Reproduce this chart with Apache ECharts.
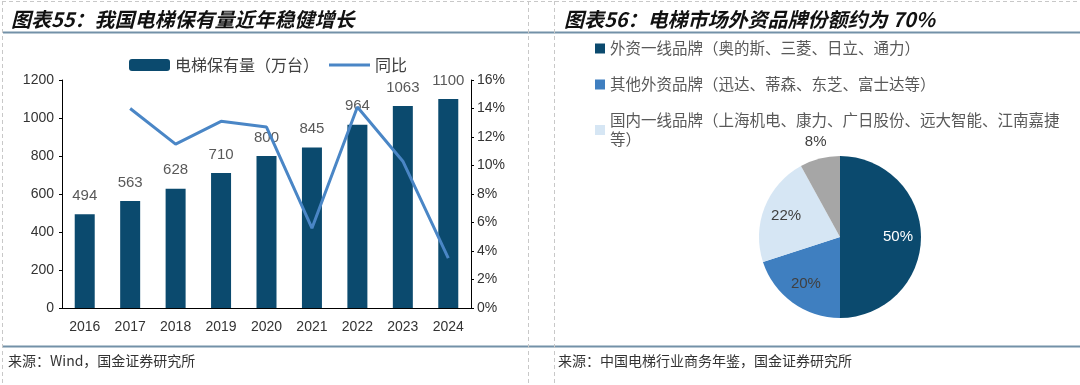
<!DOCTYPE html>
<html>
<head>
<meta charset="utf-8">
<script src="https://cdn.jsdelivr.net/npm/echarts@6/dist/echarts.min.js"></script>
<style>
html,body{margin:0;padding:0;background:#fff;}
#c{width:1080px;height:385px;}
</style>
</head>
<body>
<div id="c"></div>
<script>
// ---- data ----
var years = ['2016','2017','2018','2019','2020','2021','2022','2023','2024'];
var stock = [494, 563, 628, 710, 800, 845, 964, 1063, 1100];       // 万台
var yoy = [null, 14.0, 11.5, 13.1, 12.7, 5.6, 14.1, 10.3, 3.5];      // %
var leftTicksMax = 1200, leftTicksStep = 200;
var rightTicksMax = 16, rightTicksStep = 2;

var shareNames = ['外资一线品牌（奥的斯、三菱、日立、通力）', '其他外资品牌（迅达、蒂森、东芝、富士达等）', '国内一线品牌（上海机电、康力、广日股份、远大智能、江南嘉捷等）', '其他'];
var shareValues = [50, 20, 22, 8];
var shareColors = ['#0b4a6e', '#3f7fc0', '#d6e6f4', '#a6a6a6'];

var title1 = '图表55：我国电梯保有量近年稳健增长';
var title2 = '图表56：电梯市场外资品牌份额约为 70%';
var source1 = '来源：Wind，国金证券研究所';
var source2 = '来源：中国电梯行业商务年鉴，国金证券研究所';

var numFont = "'Liberation Sans', Arial, 'Noto Sans CJK SC', sans-serif";
var cjkFont = "'Noto Sans CJK SC', sans-serif";

var chart = echarts.init(document.getElementById('c'), null, {renderer: 'canvas'});

var pieData = shareNames.map(function (n, i) {
  return {name: n, value: shareValues[i], itemStyle: {color: shareColors[i]}};
});
// labels inside the pie (first three slices)
var pieLabelData = shareNames.map(function (n, i) {
  return {name: n, value: shareValues[i], label: {show: i !== 3, color: i === 0 ? '#ffffff' : '#404040'}};
});
// label just outside the pie (last slice)
var pieOuterLabelData = shareNames.map(function (n, i) {
  return {name: n, value: shareValues[i], label: {show: i === 3, color: '#404040'}};
});

var option = {
  animation: false,
  backgroundColor: '#ffffff',
  textStyle: {fontFamily: numFont},
  title: [
    {text: title1, left: 6, top: 4, textStyle: {fontFamily: cjkFont, fontSize: 20, fontWeight: 'bold', fontStyle: 'italic', color: '#111'}},
    {text: title2, left: 559, top: 4, textStyle: {fontFamily: cjkFont, fontSize: 20, fontWeight: 'bold', fontStyle: 'italic', color: '#111'}}
  ],
  graphic: [
    {type: 'line', shape: {x1: 3, y1: 32.5, x2: 1080, y2: 32.5}, style: {stroke: '#7391a8', lineWidth: 2}},
    {type: 'line', shape: {x1: 3, y1: 346.5, x2: 1080, y2: 346.5}, style: {stroke: '#7391a8', lineWidth: 2}},
    {type: 'line', shape: {x1: 2.5, y1: 1, x2: 2.5, y2: 385}, style: {stroke: '#c8c8c8', lineWidth: 1, lineDash: [4, 3]}},
    {type: 'line', shape: {x1: 528.5, y1: 1, x2: 528.5, y2: 385}, style: {stroke: '#c8c8c8', lineWidth: 1, lineDash: [4, 3]}},
    {type: 'line', shape: {x1: 554.5, y1: 1, x2: 554.5, y2: 385}, style: {stroke: '#c8c8c8', lineWidth: 1, lineDash: [4, 3]}},
    {type: 'line', shape: {x1: 2, y1: 1.5, x2: 1080, y2: 1.5}, style: {stroke: '#c8c8c8', lineWidth: 1, lineDash: [4, 3]}},
    {type: 'text', left: 8, top: 354, style: {text: source1, font: '14px ' + cjkFont, fill: '#333'}},
    {type: 'text', left: 558, top: 354, style: {text: source2, font: '14px ' + cjkFont, fill: '#333'}}
  ],
  legend: [
    {
      data: [
        {name: '电梯保有量（万台）'},
        {name: '同比', icon: 'path://M0,0L44,0L44,3L0,3Z'}
      ],
      left: 124, top: 52,
      itemWidth: 41, itemHeight: 12, itemGap: 10,
      textStyle: {fontFamily: cjkFont, fontSize: 16, color: '#404040'}
    },
    {
      data: shareNames.slice(0, 3).map(function (n, i) { return {name: n, itemStyle: {color: shareColors[i]}}; }),
      orient: 'vertical', left: 590, top: 34,
      itemWidth: 10, itemHeight: 10, itemGap: 17,
      icon: 'rect',
      formatter: function (name) {
        return name.length > 29 ? name.slice(0, 29) + '\n' + name.slice(29) : name;
      },
      textStyle: {fontFamily: cjkFont, fontSize: 15.5, color: '#595959', lineHeight: 19}
    }
  ],
  grid: {left: 62, right: 609, top: 80, bottom: 77},
  xAxis: {
    type: 'category', data: years,
    axisLine: {lineStyle: {color: '#000', width: 1}},
    axisTick: {inside: true, length: 4, lineStyle: {color: '#000'}},
    axisLabel: {fontSize: 14, color: '#333', margin: 12, fontFamily: numFont}
  },
  yAxis: [
    {
      type: 'value', min: 0, max: leftTicksMax, interval: leftTicksStep,
      splitLine: {show: false},
      axisLine: {show: true, lineStyle: {color: '#000'}},
      axisTick: {show: true, length: 3, lineStyle: {color: '#000'}},
      axisLabel: {fontSize: 14, color: '#333', margin: 8, fontFamily: numFont, formatter: function (v) { return String(v); }}
    },
    {
      type: 'value', min: 0, max: rightTicksMax, interval: rightTicksStep,
      splitLine: {show: false},
      axisLine: {show: true, lineStyle: {color: '#000'}},
      axisTick: {show: true, length: 3, lineStyle: {color: '#000'}},
      axisLabel: {fontSize: 14, color: '#333', margin: 6, formatter: '{value}%', fontFamily: numFont}
    }
  ],
  series: [
    {
      name: '电梯保有量（万台）', type: 'bar', data: stock, yAxisIndex: 0,
      barWidth: 20,
      itemStyle: {color: '#0b4a6e'},
      label: {show: true, position: 'top', distance: 11, fontSize: 15, color: '#595959', fontFamily: numFont}
    },
    {
      name: '同比', type: 'line', data: yoy, yAxisIndex: 1,
      symbol: 'none', connectNulls: false,
      lineStyle: {color: '#4a86c6', width: 3},
      itemStyle: {color: '#4a86c6'}
    },
    {
      name: 'share', type: 'pie', center: [840, 237], radius: [0, 81],
      startAngle: 90, clockwise: true,
      data: pieData,
      label: {show: false},
      labelLine: {show: false},
      emphasis: {disabled: true}
    },
    {
      name: 'shareLabels', type: 'pie', center: [840, 237], radius: [0, 110],
      startAngle: 90, clockwise: true, silent: true,
      data: pieLabelData,
      itemStyle: {color: 'rgba(0,0,0,0)'},
      label: {position: 'inside', fontSize: 15, fontFamily: numFont, formatter: '{d}%'},
      labelLine: {show: false},
      emphasis: {disabled: true},
      z: 5
    },
    {
      name: 'shareOuterLabels', type: 'pie', center: [840, 237], radius: [0, 190],
      startAngle: 90, clockwise: true, silent: true,
      data: pieOuterLabelData,
      itemStyle: {color: 'rgba(0,0,0,0)'},
      label: {position: 'inside', fontSize: 15, fontFamily: numFont, formatter: '{d}%'},
      labelLine: {show: false},
      emphasis: {disabled: true},
      z: 5
    }
  ]
};
chart.setOption(option);
</script>
</body>
</html>
